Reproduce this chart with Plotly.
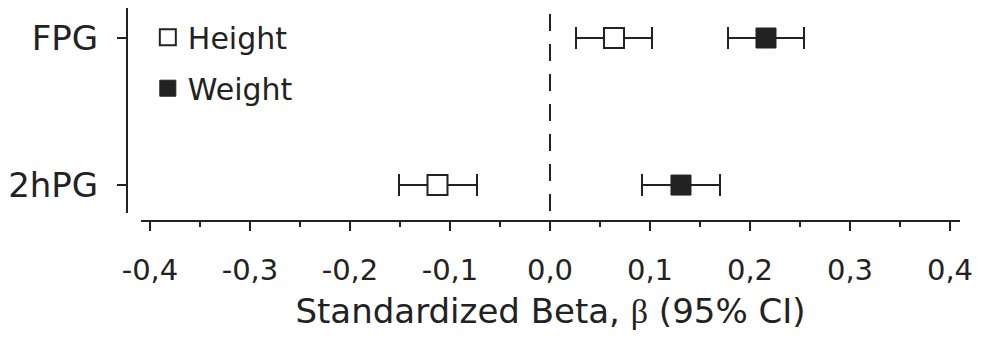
import plotly.graph_objects as go

outcomes = ["FPG", "2hPG"]
outcome_pos = [1, 0]

height_beta = [0.064, -0.1125]
height_lo = [0.026, -0.151]
height_hi = [0.102, -0.073]

weight_beta = [0.216, 0.131]
weight_lo = [0.178, 0.092]
weight_hi = [0.254, 0.170]

x_tickvals = [-0.4, -0.3, -0.2, -0.1, 0.0, 0.1, 0.2, 0.3, 0.4]
x_ticktext = ["-0,4", "-0,3", "-0,2", "-0,1", "0,0", "0,1", "0,2", "0,3", "0,4"]

INK = "#222222"
FONT = "DejaVu Sans, Liberation Sans, Arial, sans-serif"


def err(beta, lo, hi):
    return dict(
        type="data",
        symmetric=False,
        array=[h - b for b, h in zip(beta, hi)],
        arrayminus=[b - l for b, l in zip(beta, lo)],
        color=INK,
        thickness=2,
        width=11,
    )


fig = go.Figure()
fig.add_trace(go.Scatter(
    x=height_beta, y=outcome_pos, mode="markers", name="Height", legendgroup="h",
    marker=dict(symbol="square", size=20, color="white", line=dict(color=INK, width=2)),
    error_x=err(height_beta, height_lo, height_hi),
))
fig.add_trace(go.Scatter(
    x=weight_beta, y=outcome_pos, mode="markers", name="Weight", legendgroup="w",
    marker=dict(symbol="square", size=20, color=INK, line=dict(color=INK, width=1)),
    error_x=err(weight_beta, weight_lo, weight_hi),
))

fig.add_shape(type="line", xref="x", yref="y domain", x0=0, x1=0, y0=0.01, y1=0.98,
              line=dict(color=INK, width=2, dash="17px,13px"), layer="below")

fig.update_layout(
    width=984, height=348,
    margin=dict(l=127, r=24, t=8, b=127),
    paper_bgcolor="white", plot_bgcolor="white",
    font=dict(family=FONT, color=INK, size=30),
    showlegend=True,
    legend=dict(x=0.025, y=0.985, xanchor="left", yanchor="top",
                font=dict(size=30, family=FONT, color=INK),
                bgcolor="rgba(0,0,0,0)", itemsizing="trace", tracegroupgap=9,
                itemwidth=30),
    xaxis=dict(
        domain=[0.0168, 1], range=[-0.409, 0.41], anchor="free", position=0,
        showline=True, linecolor=INK, linewidth=2, showgrid=False, zeroline=False,
        tickvals=x_tickvals, ticktext=x_ticktext,
        ticks="outside", ticklen=9, tickwidth=2, tickcolor=INK,
        minor=dict(dtick=0.05, tick0=0, ticks="outside", ticklen=5, tickwidth=2, tickcolor=INK, showgrid=False),
        tickfont=dict(size=29, family=FONT, color=INK), ticklabelstandoff=14,
        title=dict(text="Standardized Beta, <span style='font-family:Liberation Serif, Times New Roman, serif'>β</span> (95% CI)",
                   font=dict(size=34, family=FONT, color=INK), standoff=12),
    ),
    yaxis=dict(
        domain=[0.0376, 1], range=[-0.19, 1.204], anchor="free", position=0,
        showline=True, linecolor=INK, linewidth=2, showgrid=False, zeroline=False,
        tickvals=outcome_pos, ticktext=outcomes,
        ticks="outside", ticklen=9, tickwidth=2, tickcolor=INK,
        tickfont=dict(size=34, family=FONT, color=INK), ticklabelstandoff=12,
    ),
)

fig.write_html("out.html")
